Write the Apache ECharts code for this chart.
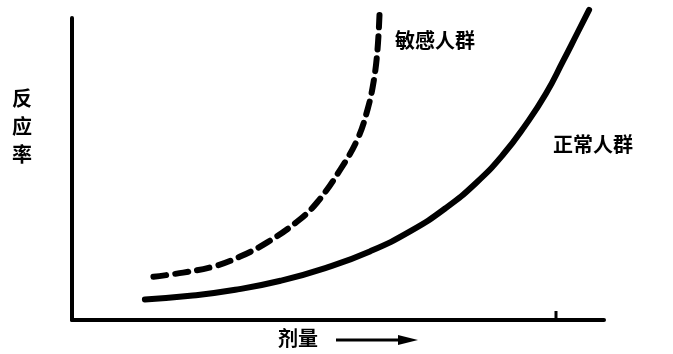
<!DOCTYPE html>
<html><head><meta charset="utf-8">
<script src="https://cdn.jsdelivr.net/npm/echarts@6/dist/echarts.min.js"></script>
<style>html,body{margin:0;padding:0;background:#fff}#c{width:673px;height:354px}</style>
</head><body><div id="c"></div>
<script>
// Dose (arbitrary units, 0-100) and response rate (0-100)
const normalDose = [13.7, 22.2, 30.7, 39.2, 47.6, 56.1, 63.7, 70.2, 75.9, 81.0, 85.3, 89.1, 92.3, 94.9, 97.2];
const normalResp = [6.8, 8.0, 10.0, 13.0, 17.2, 22.8, 29.5, 37.0, 45.3, 54.7, 64.7, 75.0, 85.7, 94.7, 102.7];
const sensitiveDose = [15.3, 20.9, 26.6, 31.6, 36.7, 42.4, 46.1, 50.5, 53.7, 55.6, 56.7, 57.4, 57.8];
const sensitiveResp = [14.3, 15.7, 17.7, 21.0, 25.7, 32.7, 39.0, 50.0, 60.0, 70.0, 79.0, 89.0, 101.0];
const seriesNames = ['正常人群', '敏感人群'];
const yTitle = '反应率';
const xTitle = '剂量';

const zip = (a, b) => a.map((v, i) => [v, b[i]]);
const FONT = '"Noto Sans CJK SC", sans-serif';
const chart = echarts.init(document.getElementById('c'));
const axisCommon = {
  type: 'value', min: 0, max: 100,
  axisLine: {show: true, onZero: false, lineStyle: {color: '#000', width: 4, cap: 'round'}},
  axisTick: {show: false}, axisLabel: {show: false}, splitLine: {show: false}
};
chart.setOption({
  backgroundColor: '#fff',
  animation: false,
  grid: {left: 72, right: 69, top: 18, bottom: 34},
  xAxis: axisCommon,
  yAxis: axisCommon,
  series: [
    {name: seriesNames[0], type: 'line', smooth: 0.5, symbol: 'none', clip: false,
     data: zip(normalDose, normalResp),
     lineStyle: {color: '#000', width: 6, cap: 'round', join: 'round'}},
    {name: seriesNames[1], type: 'line', smooth: 0.4, symbol: 'none', clip: false,
     data: zip(sensitiveDose, sensitiveResp),
     lineStyle: {color: '#000', width: 6, type: [13, 9], cap: 'round', join: 'round'}}
  ],
  graphic: [
    {type: 'text', left: 395, top: 30, style: {text: seriesNames[1], font: 'bold 20px ' + FONT, fill: '#000'}},
    {type: 'text', left: 553, top: 134, style: {text: seriesNames[0], font: 'bold 20px ' + FONT, fill: '#000'}},
    {type: 'text', left: 12, top: 84, style: {text: yTitle.split('').join('\n'), font: 'bold 20px ' + FONT, lineHeight: 28, fill: '#000'}},
    {type: 'text', left: 278, top: 328, style: {text: xTitle, font: 'bold 20px ' + FONT, fill: '#000'}},
    {type: 'line', shape: {x1: 336, y1: 340, x2: 402, y2: 340}, style: {stroke: '#000', lineWidth: 3}},
    {type: 'polygon', shape: {points: [[398, 335], [418, 340], [398, 345]]}, style: {fill: '#000'}},
    {type: 'line', shape: {x1: 556, y1: 311, x2: 556, y2: 319}, style: {stroke: '#000', lineWidth: 3}}
  ]
});
</script></body></html>
